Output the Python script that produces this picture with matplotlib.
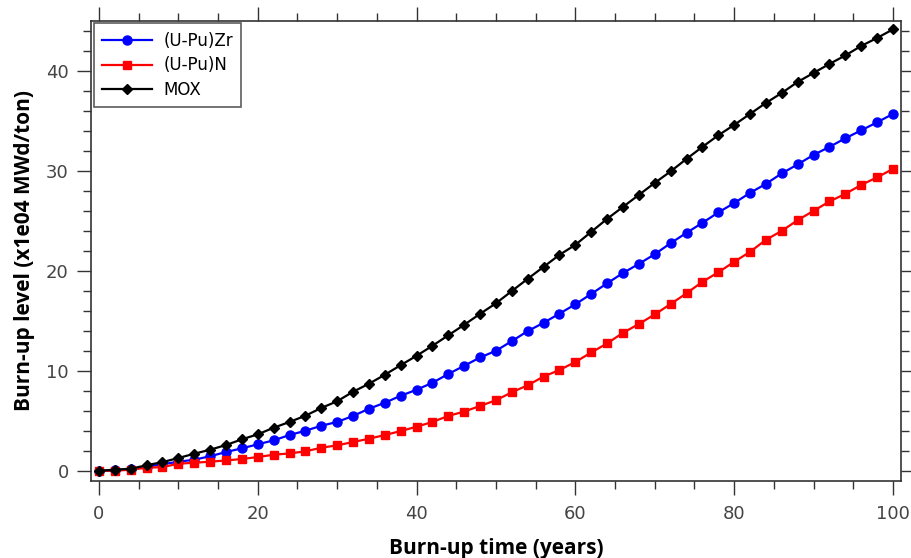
import matplotlib
matplotlib.use("Agg")
import matplotlib.pyplot as plt
from matplotlib.ticker import MultipleLocator

plt.rcParams['font.family'] = ['DejaVu Sans']

# burn-up time, every 2 years
years = list(range(0, 101, 2))

# burn-up level (x1e04 MWd/ton)
upu_zr = [-0.05, 0.05, 0.15, 0.4, 0.65, 0.9, 1.1, 1.45, 1.87, 2.24,
          2.64, 3.04, 3.57, 4.0, 4.5, 4.88, 5.48, 6.2, 6.8, 7.5,
          8.1, 8.8, 9.68, 10.5, 11.33, 12.0, 12.97, 13.97, 14.8, 15.72,
          16.65, 17.69, 18.75, 19.78, 20.7, 21.66, 22.77, 23.8, 24.8, 25.84,
          26.78, 27.8, 28.7, 29.75, 30.65, 31.6, 32.4, 33.26, 34.06, 34.86,
          35.7]
upu_n = [0.0, 0.0, 0.1, 0.3, 0.36, 0.7, 0.8, 0.9, 1.03, 1.17,
         1.37, 1.6, 1.73, 1.94, 2.3, 2.54, 2.87, 3.2, 3.57, 3.97,
         4.4, 4.88, 5.48, 5.92, 6.48, 7.05, 7.85, 8.55, 9.42, 10.08,
         10.88, 11.83, 12.74, 13.8, 14.68, 15.64, 16.68, 17.75, 18.9, 19.85,
         20.9, 21.9, 23.1, 24.0, 25.07, 26.0, 26.94, 27.7, 28.6, 29.35,
         30.2]
mox = [0.0, 0.1, 0.2, 0.55, 0.86, 1.27, 1.7, 2.1, 2.57, 3.14,
       3.64, 4.3, 4.88, 5.5, 6.28, 6.95, 7.9, 8.7, 9.6, 10.56,
       11.5, 12.5, 13.55, 14.6, 15.7, 16.75, 17.98, 19.2, 20.4, 21.6,
       22.6, 23.9, 25.2, 26.4, 27.6, 28.8, 29.95, 31.2, 32.4, 33.56,
       34.6, 35.7, 36.8, 37.8, 38.9, 39.8, 40.7, 41.55, 42.5, 43.3,
       44.16]

fig = plt.figure(figsize=(9.11, 5.58), dpi=100)
ax = fig.add_axes([0.0999, 0.1385, 0.889, 0.8239])

ax.plot(years, upu_zr, color='blue', marker='o', markersize=6.5, lw=1.6, label='(U-Pu)Zr')
ax.plot(years, upu_n, color='red', marker='s', markersize=6, lw=1.6, label='(U-Pu)N')
ax.plot(years, mox, color='black', marker='D', markersize=5.5, lw=1.6, label='MOX')

ax.set_xlim(-1, 101)
ax.set_ylim(-1, 45)
ax.xaxis.set_major_locator(MultipleLocator(20))
ax.xaxis.set_minor_locator(MultipleLocator(5))
ax.yaxis.set_major_locator(MultipleLocator(10))
ax.yaxis.set_minor_locator(MultipleLocator(2))

ax.tick_params(which='both', direction='out', top=True, right=True,
               labeltop=False, labelright=False, color='#333333',
               labelcolor='#444444', labelsize=13, width=1)
ax.tick_params(which='major', length=10)
ax.tick_params(axis='x', which='major', pad=7.5)
ax.tick_params(axis='y', which='major', pad=6)
ax.tick_params(which='minor', length=6)
for s in ax.spines.values():
    s.set_color('#333333')
    s.set_linewidth(1.2)

ax.set_xlabel('Burn-up time (years)', family='Open Sans', fontsize=15,
              fontweight='bold', labelpad=11)
ax.set_ylabel('Burn-up level (x1e04 MWd/ton)', family='Open Sans', fontsize=15,
              fontweight='bold', labelpad=8)

leg = ax.legend(loc='upper left', fontsize=12, frameon=True, fancybox=False,
                borderaxespad=0.15, handlelength=3.0, labelspacing=0.4,
                borderpad=0.5, handletextpad=0.7)
leg.get_frame().set_edgecolor('#333333')
leg.get_frame().set_linewidth(1.2)

fig.savefig('out.png', dpi=100)
